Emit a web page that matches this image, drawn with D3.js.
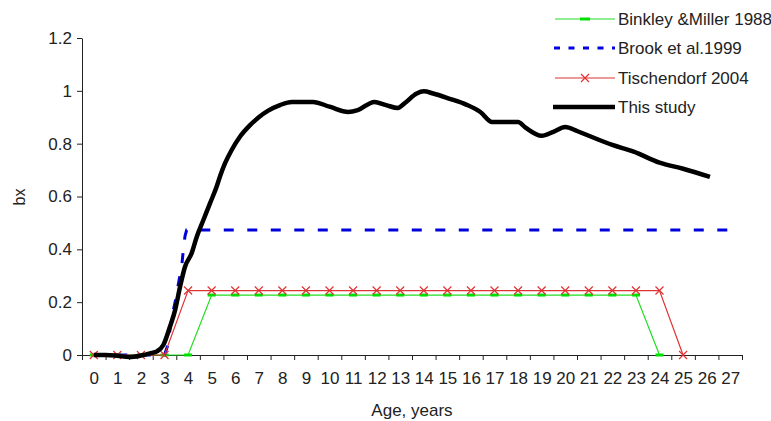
<!DOCTYPE html>
<html>
<head>
<meta charset="utf-8">
<script src="https://cdn.jsdelivr.net/npm/d3@7"></script>
<style>
  html, body { margin: 0; padding: 0; background: #fff; }
  svg { display: block; font-family: "Liberation Sans", Arial, sans-serif; }
  .axis text { fill: #222; font-size: 17px; }
  .axis path, .axis line { stroke: #222; stroke-width: 1; }
</style>
</head>
<body>
<div id="chart"></div>
<script>
// ages on the category axis and the y ticks
const ages = d3.range(0, 28);
const yTicks = [0, 0.2, 0.4, 0.6, 0.8, 1, 1.2];

// Binkley & Miller 1988 (one value per age 0..24)
const binkleyAges = d3.range(0, 25);
const binkleyVals = [0, 0, 0, 0, 0, 0.227, 0.227, 0.227, 0.227, 0.227, 0.227, 0.227, 0.227,
  0.227, 0.227, 0.227, 0.227, 0.227, 0.227, 0.227, 0.227, 0.227, 0.227, 0.227, 0];

// Tischendorf 2004 (one value per age 0..25)
const tischAges = d3.range(0, 26);
const tischVals = [0, 0, 0, 0, 0.244, 0.244, 0.244, 0.244, 0.244, 0.244, 0.244, 0.244, 0.244,
  0.244, 0.244, 0.244, 0.244, 0.244, 0.244, 0.244, 0.244, 0.244, 0.244, 0.244, 0.244, 0];

// Brook et al. 1999
const brookAges = [0, 1, 2, 3, 3.15, 3.3, 3.45, 3.59, 3.73, 3.8, 3.87, 3.94, 27];
const brookVals = [0, 0, 0, 0, 0.04, 0.14, 0.2, 0.27, 0.335, 0.4, 0.45, 0.473, 0.473];

// This study
const studyAges = [0, 0.5, 1, 1.5, 2, 2.38, 2.7, 2.95, 3.23, 3.45, 3.66, 3.87, 4.15, 4.37, 4.65,
  4.93, 5.21, 5.35, 5.57, 5.85, 6.2, 6.63, 7, 7.4, 7.9, 8.4, 9.3, 10, 10.8, 11.2, 11.9, 12.4,
  12.9, 13.2, 13.7, 14, 14.4, 15.1, 15.8, 16.4, 16.9, 18, 18.3, 19, 19.5, 20, 20.5, 21, 22,
  22.9, 24, 25, 26.14];
const studyVals = [0, 0, -0.003, -0.008, -0.002, 0.006, 0.015, 0.038, 0.107, 0.17, 0.258, 0.334,
  0.385, 0.448, 0.511, 0.574, 0.637, 0.675, 0.726, 0.776, 0.826, 0.87, 0.9, 0.925, 0.946, 0.958,
  0.958, 0.94, 0.92, 0.927, 0.958, 0.946, 0.935, 0.954, 0.99, 0.998, 0.99, 0.97, 0.948, 0.92,
  0.882, 0.882, 0.862, 0.83, 0.845, 0.863, 0.848, 0.83, 0.795, 0.77, 0.728, 0.705, 0.674];

const legendNames = ["Binkley &Miller 1988", "Brook et al.1999", "Tischendorf 2004", "This study"];

const W = 771, H = 421;
const m = { l: 82, r: 29, t: 38, b: 66 };
const x = d3.scaleLinear().domain([-0.5, 27.5]).range([m.l, W - m.r]);
const y = d3.scaleLinear().domain([0, 1.2]).range([H - m.b, m.t]);

const svg = d3.select("#chart").append("svg").attr("width", W).attr("height", H);

// axes: tick marks sit between the age categories, labels in the middle
svg.append("g").attr("class", "axis").attr("transform", `translate(0,${y(0)})`)
  .call(d3.axisBottom(x).tickValues(d3.range(-0.5, 28, 1)).tickFormat("").tickSize(5).tickSizeOuter(0));
svg.append("g").attr("class", "axis").attr("transform", `translate(0,${y(0)})`)
  .call(d3.axisBottom(x).tickValues(ages).tickFormat(d3.format("d")).tickSize(0).tickPadding(17))
  .call((g) => g.select(".domain").remove());
svg.append("g").attr("class", "axis").attr("transform", `translate(${m.l},0)`)
  .call(d3.axisLeft(y).tickValues(yTicks).tickFormat((d) => String(+d.toFixed(1)))
    .tickSize(5).tickPadding(5).tickSizeOuter(0));

svg.append("text").attr("x", 412).attr("y", 416).attr("text-anchor", "middle")
  .attr("fill", "#222").attr("font-size", 17).text("Age, years");
svg.append("text").attr("transform", "translate(25,197) rotate(-90)").attr("text-anchor", "middle")
  .attr("fill", "#222").attr("font-size", 16).text("bx");

const line = d3.line().x((d) => x(d[0])).y((d) => y(d[1]));
const zip = (a, b) => a.map((v, i) => [v, b[i]]);

const green = "#22dd22", red = "#e03333", blue = "#0000dd";

// Binkley & Miller
const bink = zip(binkleyAges, binkleyVals);
svg.append("path").attr("d", line(bink)).attr("fill", "none").attr("stroke", green).attr("stroke-width", 1.2);
svg.append("g").selectAll("line").data(bink).join("line")
  .attr("x1", (d) => x(d[0]) - 4).attr("x2", (d) => x(d[0]) + 4)
  .attr("y1", (d) => y(d[1])).attr("y2", (d) => y(d[1]))
  .attr("stroke", "#00e000").attr("stroke-width", 3);

// Brook et al.
svg.append("path").attr("d", line(zip(brookAges, brookVals))).attr("fill", "none")
  .attr("stroke", blue).attr("stroke-width", 3).attr("stroke-dasharray", "10,13.5");

// Tischendorf
const tisch = zip(tischAges, tischVals);
svg.append("path").attr("d", line(tisch)).attr("fill", "none").attr("stroke", red).attr("stroke-width", 1.2);
const cross = (sel) => sel.attr("d", "M-4,-4L4,4M-4,4L4,-4").attr("fill", "none")
  .attr("stroke", red).attr("stroke-width", 1.2);
svg.append("g").selectAll("path").data(tisch).join("path")
  .attr("transform", (d) => `translate(${x(d[0])},${y(d[1])})`).call(cross);

// This study
svg.append("path").attr("d", line.curve(d3.curveMonotoneX)(zip(studyAges, studyVals)))
  .attr("fill", "none").attr("stroke", "#000").attr("stroke-width", 4.5).attr("stroke-linejoin", "round");

// legend
const lg = svg.append("g");
const ly = [19, 48, 78, 107];
lg.append("line").attr("x1", 555).attr("x2", 615).attr("y1", ly[0]).attr("y2", ly[0]).attr("stroke", green).attr("stroke-width", 1.2);
lg.append("line").attr("x1", 580).attr("x2", 590).attr("y1", ly[0]).attr("y2", ly[0]).attr("stroke", "#00e000").attr("stroke-width", 3);
lg.append("line").attr("x1", 554).attr("x2", 615).attr("y1", ly[1]).attr("y2", ly[1]).attr("stroke", blue).attr("stroke-width", 3).attr("stroke-dasharray", "6,8.5");
lg.append("line").attr("x1", 555).attr("x2", 615).attr("y1", ly[2]).attr("y2", ly[2]).attr("stroke", red).attr("stroke-width", 1.2);
lg.append("path").attr("transform", `translate(585,${ly[2]})`).call(cross);
lg.append("line").attr("x1", 553).attr("x2", 615).attr("y1", ly[3]).attr("y2", ly[3]).attr("stroke", "#000").attr("stroke-width", 4.5);
lg.selectAll("text").data(legendNames).join("text")
  .attr("x", 618).attr("y", (d, i) => ly[i]).attr("dy", ".35em")
  .attr("fill", "#222").attr("font-size", 17).text((d) => d);
</script>
</body>
</html>
